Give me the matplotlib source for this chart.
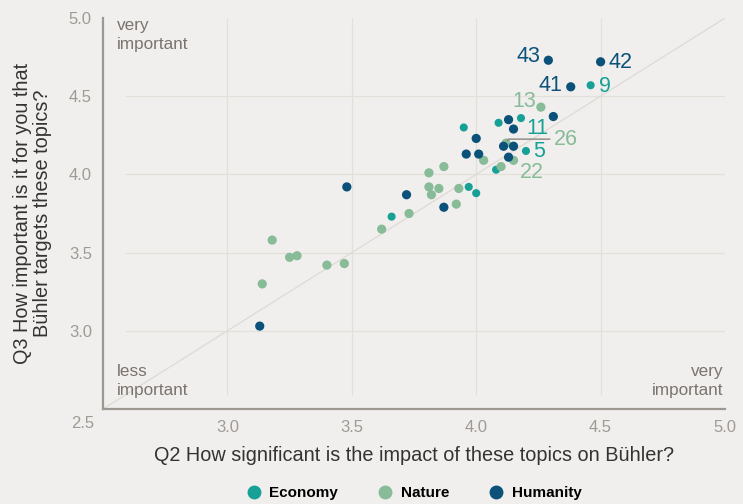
import matplotlib
matplotlib.use("Agg")
import matplotlib.pyplot as plt
from matplotlib.lines import Line2D

plt.rcParams['font.family'] = ['Liberation Sans', 'DejaVu Sans']

# ---- data ----
categories = ["Economy", "Nature", "Humanity"]

economy_x = [4.46, 4.18, 4.09, 3.95, 4.20, 4.08, 3.97, 4.00, 3.66]
economy_y = [4.57, 4.36, 4.33, 4.30, 4.15, 4.03, 3.92, 3.88, 3.73]
economy_labels = ["9", "11", "", "", "5", "", "", "", ""]

nature_x = [4.26, 4.12, 4.15, 4.03, 4.10, 3.81, 3.87, 3.81, 3.85, 3.82,
            3.93, 3.92, 3.73, 3.62, 3.18, 3.25, 3.28, 3.40, 3.47, 3.14]
nature_y = [4.43, 4.20, 4.09, 4.09, 4.05, 4.01, 4.05, 3.92, 3.91, 3.87,
            3.91, 3.81, 3.75, 3.65, 3.58, 3.47, 3.48, 3.42, 3.43, 3.30]
nature_labels = ["13", "26", "22"] + [""] * 17

humanity_x = [4.29, 4.50, 4.38, 4.31, 4.13, 4.15, 4.00, 3.96, 4.01, 4.11,
              4.15, 4.13, 3.48, 3.72, 3.87, 3.13]
humanity_y = [4.73, 4.72, 4.56, 4.37, 4.35, 4.29, 4.23, 4.13, 4.13, 4.18,
              4.18, 4.11, 3.92, 3.87, 3.79, 3.03]
humanity_labels = ["43", "42", "41"] + [""] * 13

ticks = [2.5, 3.0, 3.5, 4.0, 4.5, 5.0]
tick_labels = ["2.5", "3.0", "3.5", "4.0", "4.5", "5.0"]

# ---- style ----
bg = "#f0efed"
colors = {"Economy": "#17a096", "Nature": "#88bb98", "Humanity": "#0b5179"}
sizes = {"Economy": 34, "Nature": 44, "Humanity": 44}
tick_color = "#a09a94"
corner_color = "#7b746e"

# label offsets in pixels (dx, dy, ha)
label_offsets = {
    "43": (-8, 4, "right"), "42": (8, -1, "left"), "41": (-8, 1, "right"),
    "9": (8, -1, "left"), "13": (-5, 6, "right"), "11": (5, -10, "left"),
    "26": (48, 4, "left"), "5": (7, -1, "left"), "22": (6, -12, "left"),
}

fig = plt.figure(figsize=(7.43, 5.04), dpi=100, facecolor=bg)
ax = fig.add_axes([103 / 743, 1 - 409 / 504, (725 - 103) / 743, (409 - 18) / 504])
ax.set_facecolor(bg)
ax.set_xlim(2.5, 5.0)
ax.set_ylim(2.5, 5.0)

# grid
ax.vlines([3.0, 3.5, 4.0, 4.5], 2.59, 5.0, color="#e3e0dc", lw=0.9, zorder=0)
ax.hlines([3.0, 3.5, 4.0, 4.5], 2.59, 5.0, color="#e3e0dc", lw=0.9, zorder=0)
# diagonal
ax.plot([2.5, 5.0], [2.5, 5.0], color="#dedad6", lw=0.9, zorder=1)

series = [
    ("Economy", economy_x, economy_y, economy_labels),
    ("Nature", nature_x, nature_y, nature_labels),
    ("Humanity", humanity_x, humanity_y, humanity_labels),
]
for name, xs, ys, labs in series:
    ax.scatter(xs, ys, s=sizes[name], color=colors[name], edgecolors="none", zorder=3)
    for x, y, lab in zip(xs, ys, labs):
        if not lab:
            continue
        dx, dy, ha = label_offsets[lab]
        if lab == "26":
            ax.annotate(lab, (x, y), xytext=(dx, dy), textcoords="offset pixels",
                        ha=ha, va="center", fontsize=15.5, color=colors[name],
                        arrowprops=dict(arrowstyle="-", color="#8a8480", lw=1,
                                        shrinkA=1, shrinkB=2,
                                        connectionstyle="angle,angleA=180,angleB=60,rad=0"),
                        zorder=4)
        else:
            ax.annotate(lab, (x, y), xytext=(dx, dy), textcoords="offset pixels",
                        ha=ha, va="center", fontsize=15.5, color=colors[name], zorder=4)

# spines
for s in ["top", "right"]:
    ax.spines[s].set_visible(False)
for s in ["left", "bottom"]:
    ax.spines[s].set_color("#9e9892")
    ax.spines[s].set_linewidth(1.6)

ax.set_xticks(ticks)
ax.set_xticklabels([""] + tick_labels[1:])
ax.set_yticks(ticks)
ax.set_yticklabels([""] + tick_labels[1:])
ax.tick_params(length=0, colors=tick_color, labelsize=12)
ax.tick_params(axis="y", pad=8)
ax.tick_params(axis="x", pad=8)
ax.text(-0.014, -0.038, tick_labels[0], transform=ax.transAxes, ha="right", va="center",
        fontsize=12, color=tick_color)

ax.set_xlabel("Q2 How significant is the impact of these topics on Bühler?",
              fontsize=14.3, color="#333333", labelpad=8)
ax.set_ylabel("Q3 How important is it for you that\nBühler targets these topics?",
              fontsize=14.3, color="#333333", labelpad=12, linespacing=1.05)

# corner annotations
ax.text(0.022, 1.0, "very\nimportant", transform=ax.transAxes, ha="left", va="top",
        fontsize=12.3, color=corner_color, linespacing=1.3)
ax.text(0.022, 0.028, "less\nimportant", transform=ax.transAxes, ha="left", va="bottom",
        fontsize=12.3, color=corner_color, linespacing=1.3)
ax.text(0.998, 0.028, "very\nimportant", transform=ax.transAxes, ha="right", va="bottom",
        fontsize=12.3, color=corner_color, linespacing=1.3)

# legend
handles = [Line2D([0], [0], marker="o", linestyle="none", markersize=10,
                  markerfacecolor=colors[c], markeredgecolor="none", label=c)
           for c in categories]
fig.legend(handles=handles, loc="center", bbox_to_anchor=(0.557, 0.022), ncol=3,
           frameon=False, prop={"size": 11, "weight": "bold"}, handletextpad=0.5,
           columnspacing=2.6, handlelength=1.0)

fig.savefig("out.png", dpi=100, facecolor=bg)
